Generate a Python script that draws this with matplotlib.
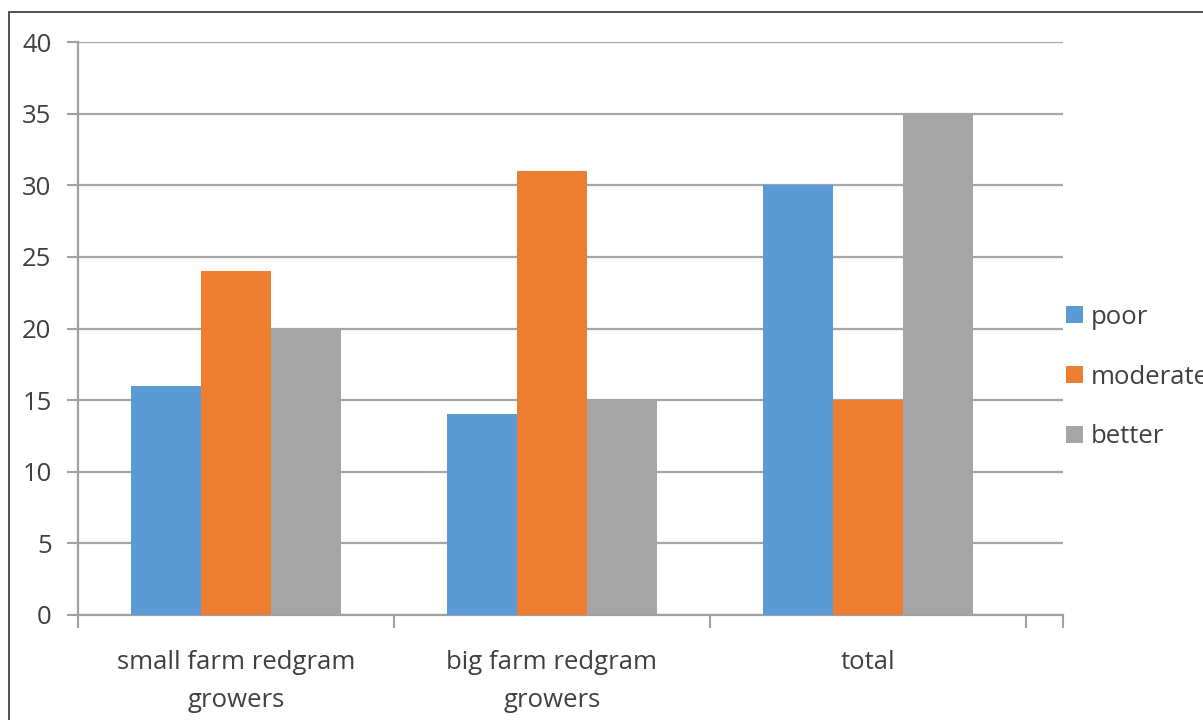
import numpy as np
import matplotlib.pyplot as plt
from matplotlib.patches import Rectangle

categories = ["small farm redgram\ngrowers", "big farm redgram\ngrowers", "total"]
series_names = ["poor", "moderate", "better"]
poor = [16, 14, 30]
moderate = [24, 31, 15]
better = [20, 15, 35]
colors = ["#5B9BD5", "#ED7D31", "#A5A5A5"]


def main():
    plt.rcParams["font.family"] = ["Open Sans", "DejaVu Sans"]
    fs = 18.5
    fig = plt.figure(figsize=(12.03, 7.2), dpi=100)
    ax = fig.add_axes([78 / 1203, 1 - 615 / 720, (1063 - 78) / 1203, (615 - 42) / 720])

    # outer frame of the chart area (cut off on right and bottom)
    fig.patches.append(Rectangle((9 / 1203, -0.05), 1.2, 1 - 12 / 720 + 0.05,
                                 transform=fig.transFigure, fill=False,
                                 edgecolor="#333333", linewidth=1.2))

    x = np.arange(len(categories)) + 0.5
    w = 0.2215
    for i, (name, vals) in enumerate(zip(series_names, [poor, moderate, better])):
        ax.bar(x + (i - 1) * w, vals, width=w, color=colors[i], label=name, zorder=3)

    ax.set_ylim(0, 40)
    ax.set_yticks(range(0, 41, 5))
    ax.set_xlim(0, (1063 - 78) / 316)
    ax.set_xticks([0, 1, 2, 3, (1063 - 78) / 316])
    ax.set_xticklabels([])
    ax.set_xticks(x, minor=True)
    ax.set_xticklabels(categories, minor=True, fontsize=fs, color="#404040",
                       linespacing=1.7)
    ax.tick_params(axis="x", which="minor", length=0, pad=25)
    ax.tick_params(axis="x", which="major", length=9, width=1.5, color="#A0A0A0")
    ax.tick_params(axis="y", length=8, width=1.5, color="#A0A0A0",
                   labelsize=fs, labelcolor="#404040", pad=11)
    ax.grid(axis="y", color="#A6A6A6", linewidth=1.6, zorder=0)
    for s in ["top", "right"]:
        ax.spines[s].set_visible(False)
    for s in ["left", "bottom"]:
        ax.spines[s].set_color("#A0A0A0")
        ax.spines[s].set_linewidth(1.6)

    leg = ax.legend(loc="center left", bbox_to_anchor=(1.003, (615 - 377) / 573),
                    frameon=False, fontsize=fs, handlelength=0.66, handleheight=0.66,
                    handletextpad=0.3, labelspacing=1.35, borderaxespad=0,
                    borderpad=0)
    for t in leg.get_texts():
        t.set_color("#404040")

    fig.savefig("out.png", dpi=100)


if __name__ == "__main__":
    main()
